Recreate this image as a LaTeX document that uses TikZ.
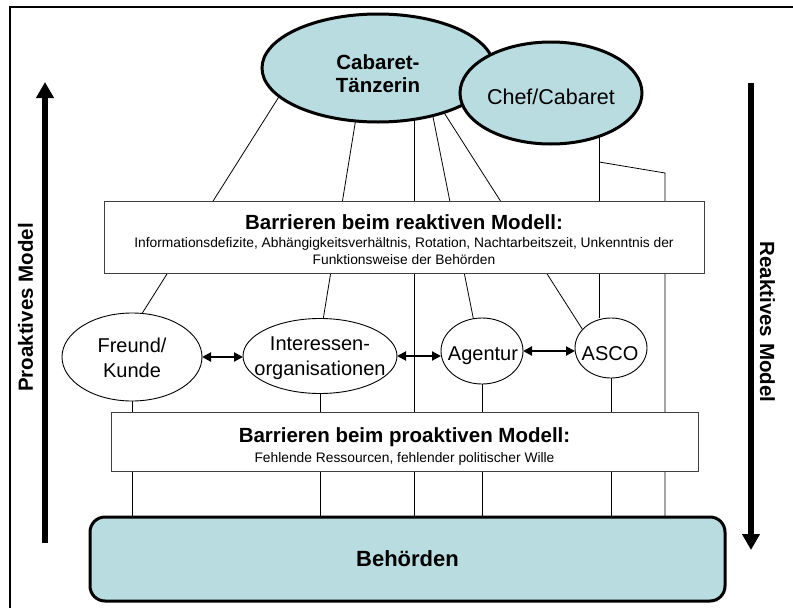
\documentclass[tikz,border=0pt]{standalone}
\usepackage{fontspec}
\setmainfont{Liberation Sans}
\usetikzlibrary{arrows.meta,shapes.geometric,backgrounds}
\definecolor{cellblue}{RGB}{185,220,224}
\begin{document}
\begin{tikzpicture}[x=1pt,y=-1pt,
  bigell/.style={ellipse, draw=black, line width=3pt, fill=cellblue, inner sep=0pt, outer sep=0pt},
  smallell/.style={ellipse, draw=black, line width=0.9pt, fill=white, inner sep=0pt, outer sep=0pt},
  barbox/.style={rectangle, draw=black!75, line width=1pt, fill=white, inner sep=0pt, outer sep=0pt},
  conn/.style={draw=black, line width=0.8pt},
  dbl/.style={line width=2pt, {Triangle[length=9pt,width=9pt]}-{Triangle[length=9pt,width=9pt]}},
  bigarrow/.style={line width=6pt, -{Triangle[length=16pt,width=17pt]}},
  lowtext/.style={font=\fontsize{20}{25}\selectfont, inner sep=0pt},
  titletext/.style={font=\fontsize{20.5}{24}\selectfont\bfseries, inner sep=0pt},
  bodytext/.style={font=\fontsize{13.8}{17}\selectfont, inner sep=0pt},
  sidetext/.style={font=\fontsize{20.5}{24}\selectfont\bfseries, inner sep=0pt}]
\useasboundingbox (0,0) rectangle (793,608);
% frame
\draw[line width=2pt] (793,7) -- (10,7) -- (10,608);
% top ellipses
\node[bigell, minimum width=232pt, minimum height=108pt] (tz) at (378,68) {};
\node[font=\fontsize{20.5}{23}\selectfont\bfseries, align=center, inner sep=0pt] (tzt) at (378,73.6) {Cabaret-\\Tänzerin};
\node[bigell, minimum width=182pt, minimum height=102pt] (ch) at (551,93) {};
\node[font=\fontsize{21.5}{25}\selectfont, anchor=base, inner sep=0pt] (cht) at (551,104.5) {Chef/Cabaret};
% lower ellipses
\node[smallell, minimum width=140pt, minimum height=88pt] (fk) at (132,357) {};
\node[lowtext, align=center] (fkt) at (132,357.5) {Freund/\\Kunde};
\node[smallell, minimum width=154pt, minimum height=75pt] (io) at (320,356) {};
\node[lowtext, align=center] (iot) at (320,358) {Interessen-\\organisationen};
\node[smallell, minimum width=82pt, minimum height=66pt] (ag) at (482,351) {};
\node[lowtext, anchor=base] (agt) at (483,360) {Agentur};
\node[smallell, minimum width=72pt, minimum height=60pt] (as) at (611,348) {};
\node[lowtext, anchor=base] (ast) at (610,360) {ASCO};
% barrier boxes
\node[barbox, minimum width=600pt, minimum height=72pt] (rbox) at (404,237) {};
\node[titletext, anchor=base] (rtit) at (404,229.3) {Barrieren beim reaktiven Modell:};
\node[bodytext, align=center] (rbody) at (404,251.5) {Informationsdefizite, Abhängigkeitsverhältnis, Rotation, Nachtarbeitszeit, Unkenntnis der\\Funktionsweise der Behörden};
\node[barbox, minimum width=587pt, minimum height=59pt] (pbox) at (404.5,441.5) {};
\node[titletext, anchor=base] (ptit) at (404.5,442.3) {Barrieren beim proaktiven Modell:};
\node[bodytext, anchor=base] (pbody) at (404.5,462) {Fehlende Ressourcen, fehlender politischer Wille};
% authorities
\node[rectangle, rounded corners=15pt, draw=black, line width=3pt, fill=cellblue, minimum width=635pt, minimum height=84pt, inner sep=0pt, outer sep=0pt, font=\fontsize{22}{26}\selectfont\bfseries] (beh) at (407.5,559) {Behörden};
% side labels
\node[sidetext, rotate=90] (pro) at (25.5,307.5) {Proaktives Model};
\node[sidetext, rotate=-90] (rea) at (767.5,322) {Reaktives Model};
% big arrows
\coordinate (pa1) at (45,543);
\coordinate (pa2) at (45,82);
\coordinate (ra1) at (751,83);
\coordinate (ra2) at (751,550);
\draw[bigarrow] (pa1) -- (pa2);
\draw[bigarrow] (ra1) -- (ra2);
% double arrows
\draw[dbl] (fk.east) -- (fk.east -| io.west);
\draw[dbl] (io.east) -- (io.east -| ag.west);
\draw[dbl] (ag.east) -- (ag.east -| as.west);
% connectors
\coordinate (k1) at (599.1,162);
\coordinate (k2) at (665,173);
\begin{scope}[on background layer]
\draw[conn] (tz.196) -- (fk.77);
\draw[conn] (tz.247) -- (io.85);
\draw[conn] (tz.305) -- (tz.305 |- beh.north);
\draw[conn] (tz.319) -- (ag.105);
\draw[conn] (tz.326) -- (as.147);
\draw[conn] (ch.318) -- (ch.318 |- as.north);
\draw[conn] (k1) -- (k2) -- (k2 |- beh.north);
\draw[conn] (fk.south) -- (fk.south |- beh.north);
\draw[conn] (io.south) -- (io.south |- beh.north);
\draw[conn] (ag.south) -- (ag.south |- beh.north);
\draw[conn] (as.south) -- (as.south |- beh.north);
\end{scope}
\end{tikzpicture}
\end{document}
